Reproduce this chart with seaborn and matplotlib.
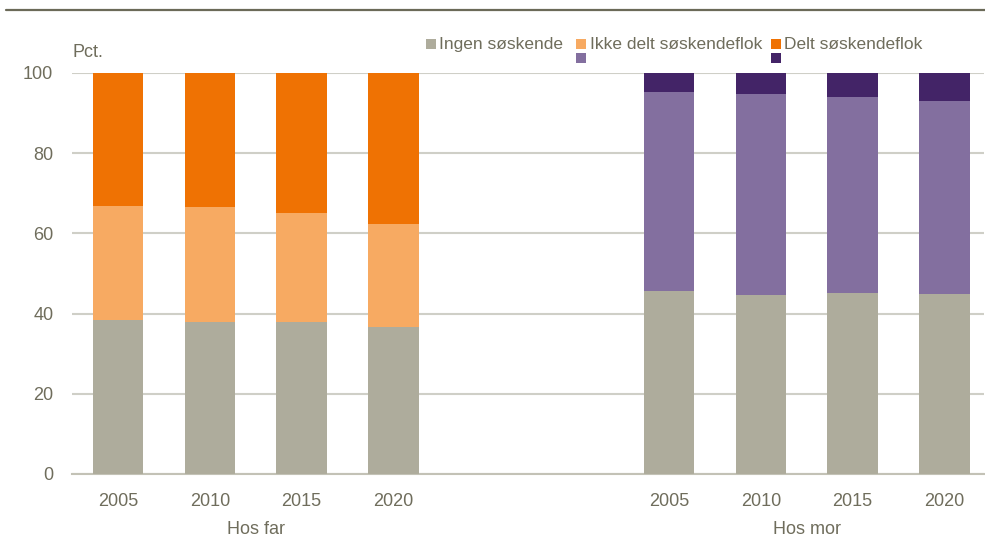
import numpy as np
import pandas as pd
import matplotlib
matplotlib.use("Agg")
import matplotlib.pyplot as plt
from matplotlib.patches import Rectangle
import seaborn as sns

sns.set_style("white")
plt.rcParams["font.family"] = ["Liberation Sans", "DejaVu Sans"]

years = ["2005", "2010", "2015", "2020"]
groups = ["Hos far", "Hos mor"]
labels = ["Ingen søskende", "Ikke delt søskendeflok", "Delt søskendeflok"]

far_ingen = [38.5, 38.0, 37.9, 36.7]
far_ikke = [28.4, 28.7, 27.3, 25.7]
far_delt = [33.1, 33.3, 34.8, 37.6]

mor_ingen = [45.6, 44.6, 45.1, 44.9]
mor_ikke = [49.7, 50.2, 49.0, 48.1]
mor_delt = [4.7, 5.2, 5.9, 7.0]

far_colors = ["#aeac9c", "#f7aa62", "#ef7203"]
mor_colors = ["#aeac9c", "#836f9f", "#432467"]
text_col = "#6f6d5c"
fs = 13

rows = []
for g, series, offset in [("Hos far", [far_ingen, far_ikke, far_delt], 0),
                          ("Hos mor", [mor_ingen, mor_ikke, mor_delt], 6)]:
    cum = np.cumsum(np.array(series), axis=0)
    for li, lab in enumerate(labels):
        for yi, yr in enumerate(years):
            rows.append({"group": g, "year": yr, "pos": offset + yi,
                         "layer": li, "value": series[li][yi], "cum": cum[li][yi]})
df = pd.DataFrame(rows)

fig = plt.figure(figsize=(9.85, 5.41), dpi=100)
ax = fig.add_axes([72 / 985, 1 - 474 / 541, 912 / 985, 401 / 541])

for g, cols in [("Hos far", far_colors), ("Hos mor", mor_colors)]:
    for li in [2, 1, 0]:
        sub = df[(df["group"] == g) & (df["layer"] == li)]
        sns.barplot(data=sub, x="pos", y="cum", native_scale=True, color=cols[li],
                    saturation=1, width=0.55, errorbar=None, linewidth=0, ax=ax, zorder=3)

ax.set_xlim(-0.5, 9.43)
ax.set_ylim(0, 100)
ax.set_yticks(range(0, 101, 20))
ax.set_xticks(list(range(4)) + list(range(6, 10)))
ax.set_xticklabels(years + years)
ax.set_xlabel("")
ax.set_ylabel("")
ax.grid(axis="y", color="#cfcfc7", linewidth=1.5, zorder=0)
for s in ["top", "right", "left"]:
    ax.spines[s].set_visible(False)
ax.spines["bottom"].set_color("#c3c2b6")
ax.spines["bottom"].set_linewidth(1.5)
ax.tick_params(axis="both", length=0, labelsize=fs, labelcolor=text_col)
ax.tick_params(axis="x", pad=14)
ax.tick_params(axis="y", pad=13.5)

ax.text(1.5, -0.118, "Hos far", transform=ax.get_xaxis_transform(),
        ha="center", va="top", fontsize=fs, color=text_col)
ax.text(7.5, -0.118, "Hos mor", transform=ax.get_xaxis_transform(),
        ha="center", va="top", fontsize=fs, color=text_col)
ax.text(73 / 985, 1 - 57 / 541, "Pct.", transform=fig.transFigure,
        ha="left", va="baseline", fontsize=fs, color=text_col)

# top rule
fig.add_artist(plt.Line2D([6 / 985, 1], [1 - 10 / 541] * 2, color="#6b6a58",
                          linewidth=1.6, transform=fig.transFigure))

# legend (two squares per entry)
def sq(x, y, c):
    fig.add_artist(Rectangle((x / 985, 1 - (y + 10) / 541), 10 / 985, 10 / 541,
                             color=c, transform=fig.transFigure, linewidth=0))

lfs = 12.5
sq(426, 39, far_colors[0])
fig.text(439 / 985, 1 - 45 / 541, labels[0], ha="left", va="center", fontsize=lfs, color=text_col)
sq(576, 39, far_colors[1])
sq(576, 53, mor_colors[1])
fig.text(590 / 985, 1 - 45 / 541, labels[1], ha="left", va="center", fontsize=lfs, color=text_col)
sq(771, 39, far_colors[2])
sq(771, 53, mor_colors[2])
fig.text(784 / 985, 1 - 45 / 541, labels[2], ha="left", va="center", fontsize=lfs, color=text_col)

fig.savefig("out.png", dpi=100)
